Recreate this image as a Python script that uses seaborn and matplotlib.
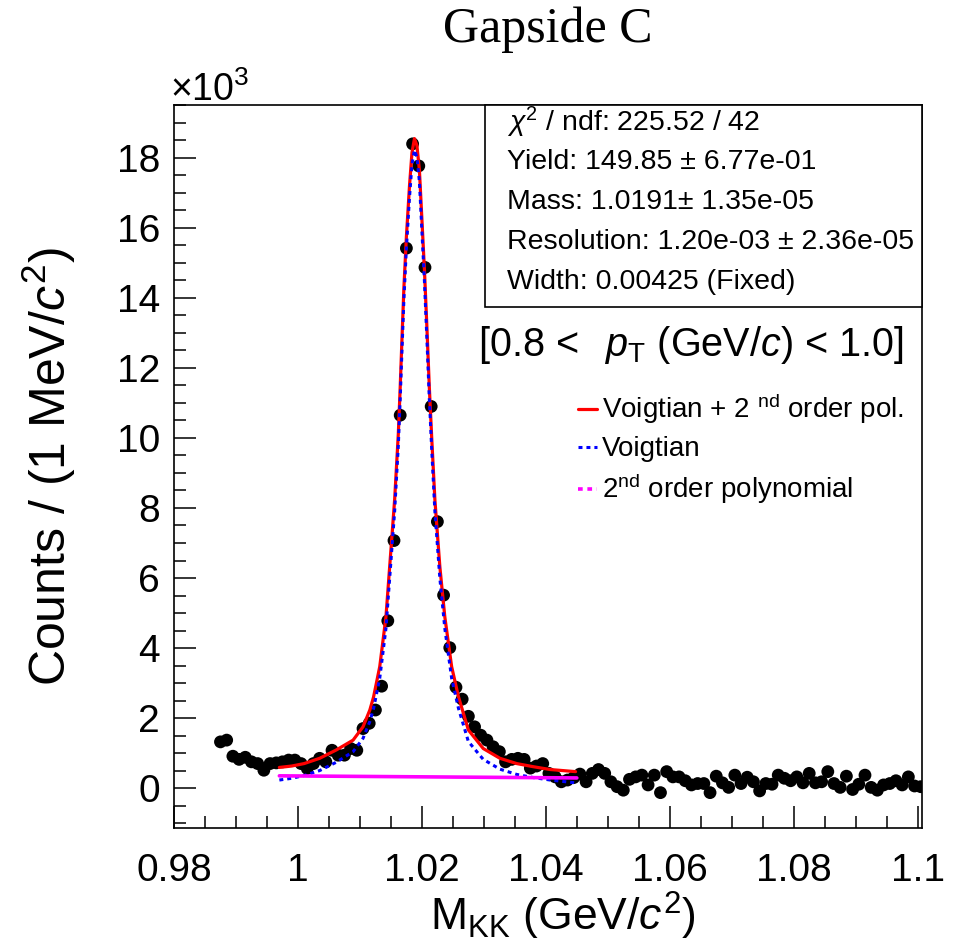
import numpy as np
import pandas as pd
import matplotlib
matplotlib.use("Agg")
import matplotlib.pyplot as plt
import seaborn as sns
from matplotlib.lines import Line2D
from matplotlib.patches import Rectangle
from matplotlib.ticker import MultipleLocator

# ---------------- data (counts in units of 10^3 per 1 MeV bin) ----------------
bin_first = 0.9875
bin_width = 0.001
counts_k = [
    1.32, 1.37, 0.91, 0.82, 0.88, 0.75, 0.70, 0.51, 0.70, 0.72,
    0.75, 0.80, 0.80, 0.70, 0.56, 0.70, 0.85, 0.75, 1.08, 0.94,
    0.94, 1.13, 1.08, 1.70, 1.85, 2.23, 2.91, 4.78, 7.07, 10.65,
    15.42, 18.40, 17.77, 14.87, 10.90, 7.61, 5.51, 4.01, 2.88, 2.54,
    2.05, 1.75, 1.51, 1.37, 1.18, 1.04, 0.75, 0.82, 0.85, 0.82,
    0.57, 0.63, 0.70, 0.42, 0.32, 0.18, 0.23, 0.30, 0.40, 0.18,
    0.42, 0.53, 0.42, 0.18, 0.04, -0.06, 0.25, 0.32, 0.37, 0.09,
    0.37, -0.13, 0.47, 0.32, 0.32, 0.21, 0.09, 0.13, 0.13, -0.13,
    0.34, 0.15, 0.02, 0.37, 0.13, 0.31, 0.18, -0.08, 0.13, 0.11,
    0.37, 0.28, 0.21, 0.32, 0.15, 0.42, 0.15, 0.18, 0.47, 0.13,
    0.02, 0.34, -0.04, 0.11, 0.37, 0.02, -0.06, 0.09, 0.13, 0.21,
    0.09, 0.32, 0.06, 0.04,
]
mass = np.round(bin_first + bin_width * np.arange(len(counts_k)), 4)

# fitted curves
curve_x = [0.9970, 0.9990, 1.0010, 1.0035, 1.0062, 1.0089, 1.0105, 1.0116, 1.0122, 1.0132,
           1.0142, 1.0148, 1.0156, 1.0162, 1.0165, 1.0168, 1.0171, 1.0175, 1.0180, 1.0184,
           1.0188, 1.0192, 1.0196, 1.0200, 1.0204, 1.0208, 1.0212, 1.0216, 1.0221, 1.0229,
           1.0237, 1.0248, 1.0259, 1.0275, 1.0299, 1.0326, 1.0353, 1.0380, 1.0407, 1.0448]
total_fit = [0.59, 0.63, 0.70, 0.85, 1.09, 1.37, 1.75, 2.23, 2.60, 3.47,
             4.89, 6.32, 8.23, 10.13, 11.45, 12.90, 14.30, 15.75, 17.20, 18.15,
             18.55, 18.35, 17.65, 16.25, 14.85, 13.20, 11.45, 9.95, 8.23, 6.32,
             4.89, 3.47, 2.61, 1.66, 1.13, 0.85, 0.70, 0.61, 0.53, 0.47]
voigt_fit = [0.23, 0.28, 0.36, 0.50, 0.74, 1.04, 1.42, 1.90, 2.27, 3.14,
             4.56, 5.99, 7.90, 9.80, 11.12, 12.57, 13.97, 15.42, 16.87, 17.82,
             18.22, 18.02, 17.32, 15.92, 14.52, 12.87, 11.12, 9.62, 7.90, 5.99,
             4.56, 3.14, 2.28, 1.33, 0.82, 0.54, 0.39, 0.30, 0.23, 0.15]
bkg_x = [0.997, 1.021, 1.045]
bkg_fit = [0.35, 0.32, 0.29]

title = "Gapside C"
stats_lines = [r"$\chi^{2}$ / ndf: 225.52 / 42",
               "Yield: 149.85 ± 6.77e-01",
               "Mass: 1.0191± 1.35e-05",
               "Resolution: 1.20e-03 ± 2.36e-05",
               "Width: 0.00425 (Fixed)"]
pt_label = r"[0.8 <  $\,p_{\mathrm{T}}$ (GeV/$c$) < 1.0]"
legend_labels = [r"Voigtian + 2 $^{\mathrm{nd}}$ order pol.", "Voigtian",
                 r"2$^{\mathrm{nd}}$ order polynomial"]

# ---------------- style ----------------
sns.set_style("white")
plt.rcParams['font.family'] = ['Liberation Sans', 'DejaVu Sans']
plt.rcParams['mathtext.fontset'] = 'custom'
plt.rcParams['mathtext.rm'] = 'Liberation Sans'
plt.rcParams['mathtext.it'] = 'Liberation Sans:italic'
plt.rcParams['mathtext.bf'] = 'Liberation Sans:bold'
for k in ['text.color', 'axes.labelcolor', 'xtick.color', 'ytick.color', 'axes.edgecolor']:
    plt.rcParams[k] = 'black'

W, H = 961, 948
def fx(px): return px / W
def fy(py): return 1 - py / H

fig = plt.figure(figsize=(W / 100, H / 100), dpi=100)
fig.patch.set_facecolor("white")
ax = fig.add_axes([fx(174), fy(828), (922 - 174) / W, (828 - 105) / H])

df = pd.DataFrame({"mass": mass, "counts": counts_k})
sns.scatterplot(data=df, x="mass", y="counts", ax=ax, color="black", s=85,
                edgecolor="none", zorder=2, legend=False)

cdf = pd.DataFrame({"x": curve_x, "total": total_fit, "voigt": voigt_fit})
sns.lineplot(data=cdf, x="x", y="total", ax=ax, color="red", lw=2.3,
             estimator=None, sort=False, zorder=3)
sns.lineplot(data=cdf, x="x", y="voigt", ax=ax, color="blue", lw=2.2,
             estimator=None, sort=False, zorder=4, linestyle=(0, (1.3, 1.3)))
bdf = pd.DataFrame({"x": bkg_x, "y": bkg_fit})
sns.lineplot(data=bdf, x="x", y="y", ax=ax, color="magenta", lw=2.6,
             estimator=None, sort=False, zorder=5)

ax.set_xlim(0.98, 1.1007)
ax.set_ylim(-1.14, 19.51)
ax.xaxis.set_minor_locator(MultipleLocator(0.005))
ax.yaxis.set_minor_locator(MultipleLocator(0.5))
ax.set_xticks([0.98, 1.0, 1.02, 1.04, 1.06, 1.08, 1.1])
ax.set_xticklabels(["0.98", "1", "1.02", "1.04", "1.06", "1.08", "1.1"])
ax.set_yticks([0, 2, 4, 6, 8, 10, 12, 14, 16, 18])
ax.set_yticklabels(["0", "2", "4", "6", "8", "10", "12", "14", "16", "18"])
ax.tick_params(which="both", direction="in", bottom=True, left=True,
               top=False, right=False, color="black")
ax.tick_params(which="major", length=16, width=1.1, labelsize=28, pad=10)
ax.tick_params(axis="x", which="major", pad=18)
ax.tick_params(which="minor", length=8.5, width=1.1)
for s in ax.spines.values():
    s.set_color("black")
    s.set_linewidth(1.2)

ax.set_xlabel(r"M$_{\mathrm{KK}}$ (GeV/$c^{2}$)", fontsize=32)
ax.set_ylabel(r"Counts / (1 MeV/$c^{2}$)", fontsize=36)
ax.xaxis.set_label_coords(0.52, -0.085)
ax.yaxis.set_label_coords(-0.128, 0.5)

fig.text(0.5 * (fx(174) + fx(922)), fy(30), title, fontsize=36,
         family=["Liberation Serif", "DejaVu Serif"], ha="center", va="center")
fig.text(fx(170), fy(90), r"$\times$10$^{3}$", fontsize=27, ha="left", va="center")

# stats box
fig.patches.append(Rectangle((fx(485), fy(307)), (922 - 485) / W, (307 - 105) / H,
                             transform=fig.transFigure, facecolor="white",
                             edgecolor="black", lw=1.2, zorder=6))
for i, line in enumerate(stats_lines):
    fig.text(fx(507), fy(122 + 40 * i), line, fontsize=20.5, ha="left", va="center",
             zorder=7)

fig.text(fx(478), fy(345), pt_label, fontsize=28.5, ha="left", va="center")

handles = [Line2D([], [], color="red", lw=2.3),
           Line2D([], [], color="blue", lw=2.2, linestyle=(0, (1.3, 1.3))),
           Line2D([], [], color="magenta", lw=2.6, linestyle=(0, (1.3, 1.3)))]
ax.legend(handles, legend_labels, loc="upper left", bbox_to_anchor=(fx(578), fy(392)),
          bbox_transform=fig.transFigure, frameon=False, fontsize=20,
          handlelength=0.7, handletextpad=0.15, labelspacing=0.35,
          borderpad=0, borderaxespad=0)

fig.savefig("out.png", dpi=100, facecolor="white")
